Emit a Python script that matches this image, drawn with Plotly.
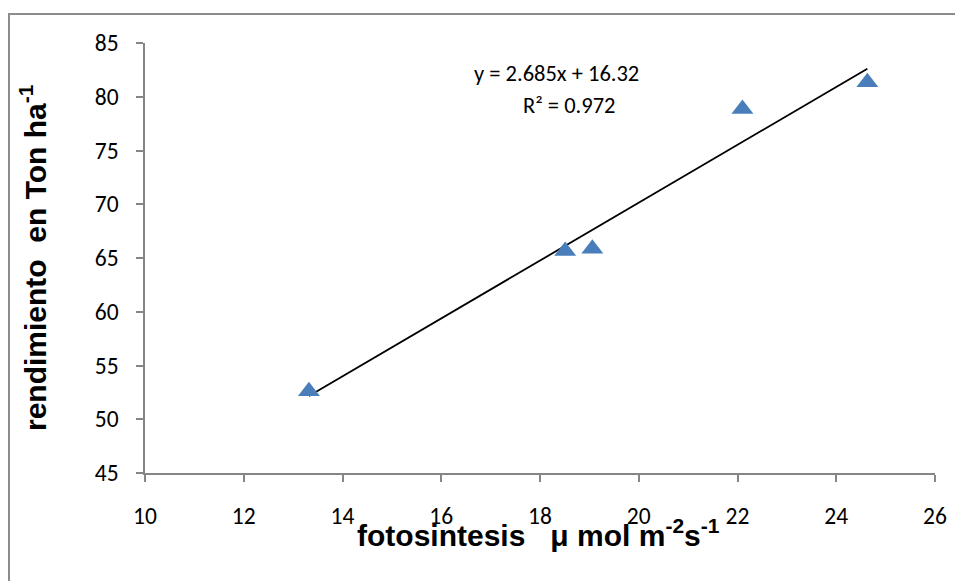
import numpy as np
import plotly.graph_objects as go

# Data
fotosintesis = [13.32, 18.51, 19.06, 22.10, 24.63]
rendimiento = [52.6, 65.65, 65.87, 78.86, 81.34]

x_ticks = [10, 12, 14, 16, 18, 20, 22, 24, 26]
y_ticks = [45, 50, 55, 60, 65, 70, 75, 80, 85]

NB = "\u00a0"
eq_text = "y = 2.685x + 16.32"
r2_text = "R² = 0.972"
x_title = "<b>fotosintesis" + NB * 3 + "μ mol m<sup>-2</sup>s<sup>-1</sup></b>"
y_title = "<b>rendimiento" + NB * 2 + "en Ton ha<sup>-1</sup></b>"

# linear trendline (least squares), drawn from min x to max x
slope, intercept = np.polyfit(fotosintesis, rendimiento, 1)
tx = [min(fotosintesis), max(fotosintesis)]
ty = [slope * v + intercept for v in tx]

# page body has an 8px margin: figure origin sits at (8, 8) of the window
OFF = 8
W, H = 963 - OFF, 581 - OFF
L, R, T, B = 145 - OFF, 28, 43 - OFF, 108
pw, ph = W - L - R, H - T - B

def px(xpix):
    # xpix in window pixels
    return (xpix - OFF - L) / pw

def py(ypix):
    return (H - B - (ypix - OFF)) / ph

tick_font = dict(family="Carlito, Open Sans, Liberation Sans, sans-serif", size=23.5, color="#000000")
title_font = dict(family="Liberation Sans, Arial, sans-serif", size=30, color="#000000")
eq_font = dict(family="Carlito, Open Sans, Liberation Sans, sans-serif", size=22.5, color="#000000")

fig = go.Figure()
fig.add_trace(go.Scatter(x=tx, y=ty, mode="lines",
                         line=dict(color="#000000", width=1.8), showlegend=False,
                         hoverinfo="skip"))
fig.add_trace(go.Scatter(x=fotosintesis, y=rendimiento, mode="markers",
                         marker=dict(symbol="triangle-up", size=19, color="#4A7EBB",
                                     line=dict(width=0)),
                         showlegend=False))

axis_common = dict(showgrid=False, zeroline=False, showline=True, linecolor="#868686",
                   linewidth=1.5, ticks="outside", tickcolor="#868686", ticklen=7,
                   tickwidth=1.5, tickfont=tick_font)

fig.update_xaxes(range=[10, 26], tickvals=x_ticks, ticklabelstandoff=14, **axis_common)
fig.update_yaxes(range=[45, 85], tickvals=y_ticks, ticklabelstandoff=13, **axis_common)

fig.add_annotation(x=px(538), y=py(533), xref="paper", yref="paper", text=x_title,
                   showarrow=False, font=title_font, xanchor="center", yanchor="middle")
fig.add_annotation(x=px(33), y=py(258), xref="paper", yref="paper", text=y_title,
                   showarrow=False, font=title_font, textangle=-90,
                   xanchor="center", yanchor="middle")
fig.add_annotation(x=px(556), y=py(73.5), xref="paper", yref="paper", text=eq_text,
                   showarrow=False, font=eq_font, xanchor="center", yanchor="middle")
fig.add_annotation(x=px(569), y=py(105), xref="paper", yref="paper", text=r2_text,
                   showarrow=False, font=eq_font, xanchor="center", yanchor="middle")

# chart-area border (partially outside the window, as in the reference)
fig.add_shape(type="rect", xref="paper", yref="paper",
              x0=px(9), x1=px(980), y0=py(600), y1=py(14),
              line=dict(color="#8C8C8C", width=2), fillcolor="rgba(0,0,0,0)", layer="below")

fig.update_layout(width=W, height=H, margin=dict(l=L, r=R, t=T, b=B),
                  paper_bgcolor="white", plot_bgcolor="white", showlegend=False)

fig.write_html("out.html")
